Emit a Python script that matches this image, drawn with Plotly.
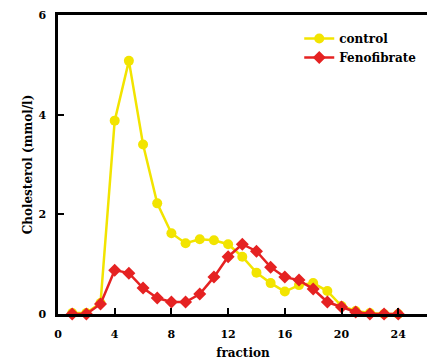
import plotly.graph_objects as go

fractions = list(range(1, 25))
control = [0.02, 0.02, 0.22, 3.88, 5.08, 3.40, 2.22, 1.62, 1.42, 1.50, 1.48, 1.40,
           1.15, 0.83, 0.62, 0.45, 0.58, 0.62, 0.46, 0.16, 0.06, 0.02, 0.0, 0.0]
fenofibrate = [0.0, 0.0, 0.20, 0.88, 0.82, 0.52, 0.32, 0.24, 0.24, 0.40, 0.74, 1.15,
               1.40, 1.26, 0.94, 0.74, 0.68, 0.50, 0.24, 0.14, 0.04, 0.0, 0.0, 0.0]
x_ticks = [0, 4, 8, 12, 16, 20, 24]
y_ticks = [0, 2, 4, 6]

YEL = "#f2e400"
RED = "#e52222"
FONT = "DejaVu Serif"

fig = go.Figure()
fig.add_trace(go.Scatter(x=fractions, y=control, name="control", mode="lines+markers",
                         line=dict(color=YEL, width=2.5),
                         marker=dict(symbol="circle", size=10, color=YEL),
                         cliponaxis=False))
fig.add_trace(go.Scatter(x=fractions, y=fenofibrate, name="Fenofibrate", mode="lines+markers",
                         line=dict(color=RED, width=2.5),
                         marker=dict(symbol="diamond", size=10, color=RED),
                         cliponaxis=False))

axis_common = dict(showline=True, linecolor="black", linewidth=2.5, mirror=True,
                   ticks="inside", ticklen=6, tickwidth=2, tickcolor="black",
                   showgrid=False, zeroline=False, automargin=False,
                   tickfont=dict(family=FONT, size=11, color="black", weight="bold"))

fig.update_layout(
    width=427, height=352,
    margin=dict(l=50, r=7, t=7, b=46),
    plot_bgcolor="white", paper_bgcolor="white",
    font=dict(family=FONT, color="black"),
    xaxis=dict(range=[0, 26.1], tickvals=x_ticks, ticklabelstandoff=8,
               title=dict(text="<b>fraction</b>", font=dict(family=FONT, size=12), standoff=11),
               **axis_common),
    yaxis=dict(range=[0, 6], tickvals=y_ticks, ticklabelstandoff=7,
               title=dict(text="<b>Cholesterol (mmol/l)</b>", font=dict(family=FONT, size=12), standoff=4),
               **axis_common),
    legend=dict(x=0.652, y=0.97, xanchor="left", yanchor="top", bgcolor="rgba(0,0,0,0)",
                font=dict(family=FONT, size=12, color="black", weight="bold"),
                tracegroupgap=0, itemwidth=30),
    showlegend=True,
)
fig.write_html("out.html")
